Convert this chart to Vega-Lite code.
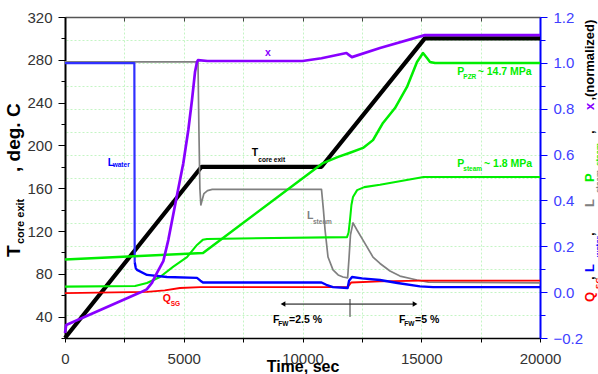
{
  "$schema": "https://vega.github.io/schema/vega-lite/v6.json",
  "width": 475,
  "height": 321,
  "autosize": {"type": "none"},
  "padding": {"left": 65, "top": 17, "right": 58, "bottom": 36},
  "config": {
    "view": {"stroke": null},
    "font": "Liberation Sans",
    "axis": {"labelFont": "Liberation Sans", "titleFont": "Liberation Sans"},
    "text": {"font": "Liberation Sans"}
  },
  "datasets": {
    "temp": [
      {"t": 0, "T": 20}, {"t": 5750, "T": 180}, {"t": 10800, "T": 180}, {"t": 15150, "T": 300}, {"t": 20000, "T": 300}
    ],
    "norm": [
      {"s": "Ls", "t": 0, "v": 1.004}, {"s": "Ls", "t": 5600, "v": 1.004}, {"s": "Ls", "t": 5640, "v": 0.7}, {"s": "Ls", "t": 5680, "v": 0.45}, {"s": "Ls", "t": 5720, "v": 0.38}, {"s": "Ls", "t": 5770, "v": 0.40}, {"s": "Ls", "t": 5850, "v": 0.43}, {"s": "Ls", "t": 6000, "v": 0.443}, {"s": "Ls", "t": 6200, "v": 0.448}, {"s": "Ls", "t": 10800, "v": 0.448}, {"s": "Ls", "t": 10880, "v": 0.36}, {"s": "Ls", "t": 10950, "v": 0.271}, {"s": "Ls", "t": 11074, "v": 0.153}, {"s": "Ls", "t": 11284, "v": 0.097}, {"s": "Ls", "t": 11500, "v": 0.075}, {"s": "Ls", "t": 11705, "v": 0.066}, {"s": "Ls", "t": 11900, "v": 0.062}, {"s": "Ls", "t": 11960, "v": 0.15}, {"s": "Ls", "t": 12020, "v": 0.25}, {"s": "Ls", "t": 12126, "v": 0.302}, {"s": "Ls", "t": 12300, "v": 0.27}, {"s": "Ls", "t": 12547, "v": 0.227}, {"s": "Ls", "t": 12968, "v": 0.153}, {"s": "Ls", "t": 13263, "v": 0.125}, {"s": "Ls", "t": 13684, "v": 0.092}, {"s": "Ls", "t": 14105, "v": 0.07}, {"s": "Ls", "t": 14821, "v": 0.053}, {"s": "Ls", "t": 15300, "v": 0.044}, {"s": "Ls", "t": 20000, "v": 0.04},
      {"s": "Q", "t": 0, "v": -0.004}, {"s": "Q", "t": 3450, "v": 0.001}, {"s": "Q", "t": 4200, "v": 0.008}, {"s": "Q", "t": 4840, "v": 0.018}, {"s": "Q", "t": 5700, "v": 0.022}, {"s": "Q", "t": 11900, "v": 0.022}, {"s": "Q", "t": 12050, "v": 0.042}, {"s": "Q", "t": 13260, "v": 0.047}, {"s": "Q", "t": 15000, "v": 0.05}, {"s": "Q", "t": 20000, "v": 0.05},
      {"s": "Ps", "t": 0, "v": 0.024}, {"s": "Ps", "t": 2950, "v": 0.027}, {"s": "Ps", "t": 3450, "v": 0.040}, {"s": "Ps", "t": 4000, "v": 0.066}, {"s": "Ps", "t": 4547, "v": 0.110}, {"s": "Ps", "t": 5137, "v": 0.153}, {"s": "Ps", "t": 5558, "v": 0.206}, {"s": "Ps", "t": 5800, "v": 0.228}, {"s": "Ps", "t": 5979, "v": 0.232}, {"s": "Ps", "t": 11874, "v": 0.240}, {"s": "Ps", "t": 11940, "v": 0.26}, {"s": "Ps", "t": 12000, "v": 0.315}, {"s": "Ps", "t": 12060, "v": 0.38}, {"s": "Ps", "t": 12126, "v": 0.415}, {"s": "Ps", "t": 12300, "v": 0.445}, {"s": "Ps", "t": 12600, "v": 0.458}, {"s": "Ps", "t": 13263, "v": 0.468}, {"s": "Ps", "t": 15100, "v": 0.502}, {"s": "Ps", "t": 20000, "v": 0.502},
      {"s": "Lw1", "t": 0, "v": 0.999}, {"s": "Lw1", "t": 2920, "v": 0.999}, {"s": "Lw1", "t": 2935, "v": 0.13},
      {"s": "Lw2", "t": 2935, "v": 0.13}, {"s": "Lw2", "t": 2980, "v": 0.105}, {"s": "Lw2", "t": 3032, "v": 0.097}, {"s": "Lw2", "t": 3453, "v": 0.075}, {"s": "Lw2", "t": 4295, "v": 0.066}, {"s": "Lw2", "t": 5558, "v": 0.062}, {"s": "Lw2", "t": 5700, "v": 0.05}, {"s": "Lw2", "t": 5811, "v": 0.042}, {"s": "Lw2", "t": 10800, "v": 0.042}, {"s": "Lw2", "t": 11000, "v": 0.032}, {"s": "Lw2", "t": 11284, "v": 0.022}, {"s": "Lw2", "t": 11900, "v": 0.018}, {"s": "Lw2", "t": 11960, "v": 0.05}, {"s": "Lw2", "t": 12084, "v": 0.066}, {"s": "Lw2", "t": 12500, "v": 0.06}, {"s": "Lw2", "t": 13263, "v": 0.053}, {"s": "Lw2", "t": 14000, "v": 0.04}, {"s": "Lw2", "t": 14950, "v": 0.025}, {"s": "Lw2", "t": 15500, "v": 0.022}, {"s": "Lw2", "t": 20000, "v": 0.022},
      {"s": "Pp", "t": 0, "v": 0.142}, {"s": "Pp", "t": 5811, "v": 0.171}, {"s": "Pp", "t": 10863, "v": 0.563}, {"s": "Pp", "t": 11500, "v": 0.59}, {"s": "Pp", "t": 12000, "v": 0.608}, {"s": "Pp", "t": 12547, "v": 0.629}, {"s": "Pp", "t": 12968, "v": 0.663}, {"s": "Pp", "t": 13389, "v": 0.738}, {"s": "Pp", "t": 13895, "v": 0.803}, {"s": "Pp", "t": 14400, "v": 0.895}, {"s": "Pp", "t": 14821, "v": 1.004}, {"s": "Pp", "t": 15074, "v": 1.043}, {"s": "Pp", "t": 15250, "v": 1.02}, {"s": "Pp", "t": 15368, "v": 1.004}, {"s": "Pp", "t": 15579, "v": 0.999}, {"s": "Pp", "t": 20000, "v": 0.999},
      {"s": "x", "t": 0, "v": -0.178}, {"s": "x", "t": 50, "v": -0.143}, {"s": "x", "t": 2442, "v": -0.034}, {"s": "x", "t": 3158, "v": -0.002}, {"s": "x", "t": 3440, "v": 0.012}, {"s": "x", "t": 3660, "v": 0.04}, {"s": "x", "t": 3861, "v": 0.082}, {"s": "x", "t": 4139, "v": 0.135}, {"s": "x", "t": 4349, "v": 0.227}, {"s": "x", "t": 4703, "v": 0.416}, {"s": "x", "t": 4981, "v": 0.562}, {"s": "x", "t": 5192, "v": 0.707}, {"s": "x", "t": 5347, "v": 0.838}, {"s": "x", "t": 5474, "v": 0.96}, {"s": "x", "t": 5558, "v": 1.004}, {"s": "x", "t": 5600, "v": 1.012}, {"s": "x", "t": 6000, "v": 1.008}, {"s": "x", "t": 10000, "v": 1.008}, {"s": "x", "t": 10800, "v": 1.02}, {"s": "x", "t": 11850, "v": 1.043}, {"s": "x", "t": 11950, "v": 1.035}, {"s": "x", "t": 12080, "v": 1.025}, {"s": "x", "t": 13263, "v": 1.065}, {"s": "x", "t": 15150, "v": 1.121}, {"s": "x", "t": 20000, "v": 1.121}
    ],
    "ann": [
      {"kind": "m", "s": "x", "txt": "x", "t": 8421, "v": 1.045},
      {"kind": "m", "s": "Lw", "txt": "L", "t": 1798, "v": 0.565},
      {"kind": "s", "s": "Lw", "txt": "water", "t": 2008, "v": 0.554},
      {"kind": "m", "s": "k", "txt": "T", "t": 7860, "v": 0.605},
      {"kind": "s", "s": "k", "txt": "core exit", "t": 8140, "v": 0.578},
      {"kind": "m", "s": "Ls", "txt": "L", "t": 10189, "v": 0.330},
      {"kind": "s", "s": "Ls", "txt": "steam", "t": 10442, "v": 0.308},
      {"kind": "m", "s": "Q", "txt": "Q", "t": 4114, "v": -0.03},
      {"kind": "s", "s": "Q", "txt": "SG", "t": 4450, "v": -0.05},
      {"kind": "m", "s": "Pp", "txt": "P", "t": 16518, "v": 0.958},
      {"kind": "s", "s": "Pp", "txt": "PZR", "t": 16771, "v": 0.938},
      {"kind": "m", "s": "Pp", "txt": "~ 14.7 MPa", "t": 17376, "v": 0.958},
      {"kind": "m", "s": "Pp", "txt": "P", "t": 16518, "v": 0.557},
      {"kind": "s", "s": "Pp", "txt": "steam", "t": 16771, "v": 0.538},
      {"kind": "m", "s": "Pp", "txt": "~ 1.8 MPa", "t": 17642, "v": 0.557},
      {"kind": "m", "s": "k", "txt": "F", "t": 8758, "v": -0.1215},
      {"kind": "s", "s": "k", "txt": "FW", "t": 8982, "v": -0.139},
      {"kind": "m", "s": "k", "txt": "=2.5 %", "t": 9432, "v": -0.1215},
      {"kind": "m", "s": "k", "txt": "F", "t": 14063, "v": -0.1215},
      {"kind": "s", "s": "k", "txt": "FW", "t": 14287, "v": -0.139},
      {"kind": "m", "s": "k", "txt": "=5 %", "t": 14737, "v": -0.1215},
      {"kind": "lm", "s": "k", "txt": "T", "t": -2147, "v": 0.153},
      {"kind": "ls", "s": "k", "txt": "core exit", "t": -1853, "v": 0.21},
      {"kind": "lm", "s": "k", "txt": ", deg. C", "t": -2147, "v": 0.524},
      {"kind": "rm", "s": "Q", "txt": "Q", "t": 22105, "v": -0.043},
      {"kind": "rs", "s": "Q", "txt": "SG", "t": 22484, "v": 0.014},
      {"kind": "rm", "s": "k", "txt": ",", "t": 22105, "v": 0.053},
      {"kind": "rm", "s": "Lw", "txt": "L", "t": 22105, "v": 0.088},
      {"kind": "rs", "s": "Lw", "txt": "water", "t": 22484, "v": 0.153},
      {"kind": "rm", "s": "k", "txt": ",", "t": 22105, "v": 0.245},
      {"kind": "rm", "s": "Ls", "txt": "L", "t": 22105, "v": 0.371},
      {"kind": "rs", "s": "Ls", "txt": "steam", "t": 22484, "v": 0.432},
      {"kind": "rm", "s": "Pp", "txt": "P", "t": 22105, "v": 0.48},
      {"kind": "rs", "s": "Pp", "txt": "steam", "t": 22484, "v": 0.55},
      {"kind": "rm", "s": "k", "txt": ",", "t": 22105, "v": 0.69},
      {"kind": "rm", "s": "x", "txt": "x", "t": 22105, "v": 0.794},
      {"kind": "rm", "s": "k", "txt": ",", "t": 22105, "v": 0.836},
      {"kind": "rm", "s": "k", "txt": "(normalized)", "t": 22105, "v": 0.851}
    ],
    "arrow": [{"t": 9180, "t2": 14740, "v": -0.052}],
    "heads": [{"t": 9180, "v": -0.052, "dir": "l"}, {"t": 14740, "v": -0.052, "dir": "r"}],
    "mid": [{"t": 12000, "v": -0.03, "v2": -0.108}]
  },
  "layer": [
    {
      "data": {"name": "temp"},
      "mark": {"type": "line", "color": "#000000", "strokeWidth": 4.2, "strokeJoin": "round"},
      "encoding": {
        "x": {"field": "t", "type": "quantitative", "scale": {"domain": [0, 20000]},
          "axis": {"orient": "bottom", "values": [0, 2500, 5000, 7500, 10000, 12500, 15000, 17500, 20000], "format": "d",
            "labelExpr": "datum.value % 5000 == 0 ? datum.label : ''", "labelOverlap": false, "labelFlush": false,
            "grid": false, "domainColor": "#000000", "domainWidth": 1.5, "tickColor": "#000000", "tickSize": 4,
            "labelFontSize": 15, "labelColor": "#333333", "labelPadding": 9,
            "title": "Time, sec", "titleFontSize": 16, "titleFontWeight": "bold", "titleColor": "#000000",
            "titleBaseline": "alphabetic", "titleY": 33}},
        "y": {"field": "T", "type": "quantitative", "scale": {"domain": [20, 320]},
          "axis": {"orient": "left", "values": [20, 40, 60, 80, 100, 120, 140, 160, 180, 200, 220, 240, 260, 280, 300, 320],
            "labelExpr": "datum.value % 40 == 0 ? datum.label : ''", "labelOverlap": false, "labelFlush": false,
            "grid": false, "domainColor": "#000000", "domainWidth": 2, "tickColor": "#000000",
            "tickSize": {"condition": {"test": "datum.value % 40 == 0", "value": 7}, "value": 4},
            "labelFontSize": 15, "labelColor": "#333333", "labelPadding": 6, "title": null}}
      }
    },
    {
      "encoding": {
        "x": {"field": "t", "type": "quantitative", "scale": {"domain": [0, 20000]},
          "axis": {"orient": "top", "values": [0, 2500, 5000, 7500, 10000, 12500, 15000, 17500, 20000],
            "labels": false, "ticks": true, "tickSize": -4, "tickColor": "#444444", "domainColor": "#555555", "domainWidth": 1.5,
            "grid": true, "gridColor": "#c4f5c4", "gridDash": [2, 2], "gridWidth": 1, "title": null}},
        "y": {"field": "v", "type": "quantitative", "scale": {"domain": [-0.2, 1.2]},
          "axis": {"orient": "right", "values": [-0.2, -0.1, 0, 0.1, 0.2, 0.3, 0.4, 0.5, 0.6, 0.7, 0.8, 0.9, 1.0, 1.1, 1.2],
            "labelExpr": "abs(round(datum.value * 10)) % 2 == 0 ? format(datum.value, '.1f') : ''",
            "labelOverlap": false, "labelFlush": false,
            "grid": true, "gridColor": "#c4f5c4", "gridDash": [2, 2], "gridWidth": 1,
            "domainColor": "#0000ff", "domainWidth": 2, "tickColor": "#0000ff",
            "tickSize": {"condition": {"test": "abs(round(datum.value * 10)) % 2 == 0", "value": 7}, "value": 5},
            "labelFontSize": 15, "labelColor": "#4040ff", "labelPadding": 6, "title": null}}
      },
      "layer": [
        {
          "data": {"name": "norm"},
          "mark": {"type": "line", "strokeJoin": "round"},
          "encoding": {
            "color": {"field": "s", "type": "nominal", "legend": null,
              "scale": {"domain": ["Ls", "Q", "Ps", "Lw1", "Lw2", "Pp", "x", "k", "Lw"],
                "range": ["#808080", "#ff0000", "#00ee00", "#3030ff", "#0000ff", "#00ee00", "#8800ff", "#000000", "#0000ff"]}},
            "strokeWidth": {"field": "s", "type": "nominal", "legend": null,
              "scale": {"domain": ["Ls", "Q", "Ps", "Lw1", "Lw2", "Pp", "x"], "range": [1.7, 2.7, 2, 1.2, 2.4, 5, 4.5]}}
          }
        },
        {
          "data": {"name": "arrow"},
          "mark": {"type": "rule", "color": "#000000", "strokeWidth": 1},
          "encoding": {"x2": {"field": "t2"}}
        },
        {
          "data": {"name": "mid"},
          "mark": {"type": "rule", "color": "#333333", "strokeWidth": 1},
          "encoding": {"y2": {"field": "v2"}}
        },
        {
          "data": {"name": "heads"},
          "mark": {"type": "point", "filled": true, "color": "#000000", "size": 30, "opacity": 1},
          "encoding": {"shape": {"field": "dir", "type": "nominal", "legend": null,
            "scale": {"domain": ["l", "r"], "range": ["triangle-left", "triangle-right"]}}}
        },
        {
          "data": {"name": "ann"},
          "transform": [{"filter": "datum.kind == 'm'"}],
          "mark": {"type": "text", "align": "left", "baseline": "middle", "fontSize": 10.5, "fontWeight": "bold"},
          "encoding": {"text": {"field": "txt"}, "color": {"field": "s", "type": "nominal", "legend": null}}
        },
        {
          "data": {"name": "ann"},
          "transform": [{"filter": "datum.kind == 's'"}],
          "mark": {"type": "text", "align": "left", "baseline": "middle", "fontSize": 6.5, "fontWeight": "bold"},
          "encoding": {"text": {"field": "txt"}, "color": {"field": "s", "type": "nominal", "legend": null}}
        },
        {
          "data": {"name": "ann"},
          "transform": [{"filter": "datum.kind == 'lm'"}],
          "mark": {"type": "text", "align": "left", "baseline": "middle", "angle": 270, "fontSize": 19, "fontWeight": "bold"},
          "encoding": {"text": {"field": "txt"}, "color": {"field": "s", "type": "nominal", "legend": null}}
        },
        {
          "data": {"name": "ann"},
          "transform": [{"filter": "datum.kind == 'ls'"}],
          "mark": {"type": "text", "align": "left", "baseline": "middle", "angle": 270, "fontSize": 11, "fontWeight": "bold"},
          "encoding": {"text": {"field": "txt"}, "color": {"field": "s", "type": "nominal", "legend": null}}
        },
        {
          "data": {"name": "ann"},
          "transform": [{"filter": "datum.kind == 'rm'"}],
          "mark": {"type": "text", "align": "left", "baseline": "middle", "angle": 270, "fontSize": 13, "fontWeight": "bold"},
          "encoding": {"text": {"field": "txt"}, "color": {"field": "s", "type": "nominal", "legend": null}}
        },
        {
          "data": {"name": "ann"},
          "transform": [{"filter": "datum.kind == 'rs'"}],
          "mark": {"type": "text", "align": "left", "baseline": "middle", "angle": 270, "fontSize": 8, "fontWeight": "bold"},
          "encoding": {"text": {"field": "txt"}, "color": {"field": "s", "type": "nominal", "legend": null}}
        }
      ]
    }
  ],
  "resolve": {"scale": {"y": "independent"}, "axis": {"x": "independent"}}
}
